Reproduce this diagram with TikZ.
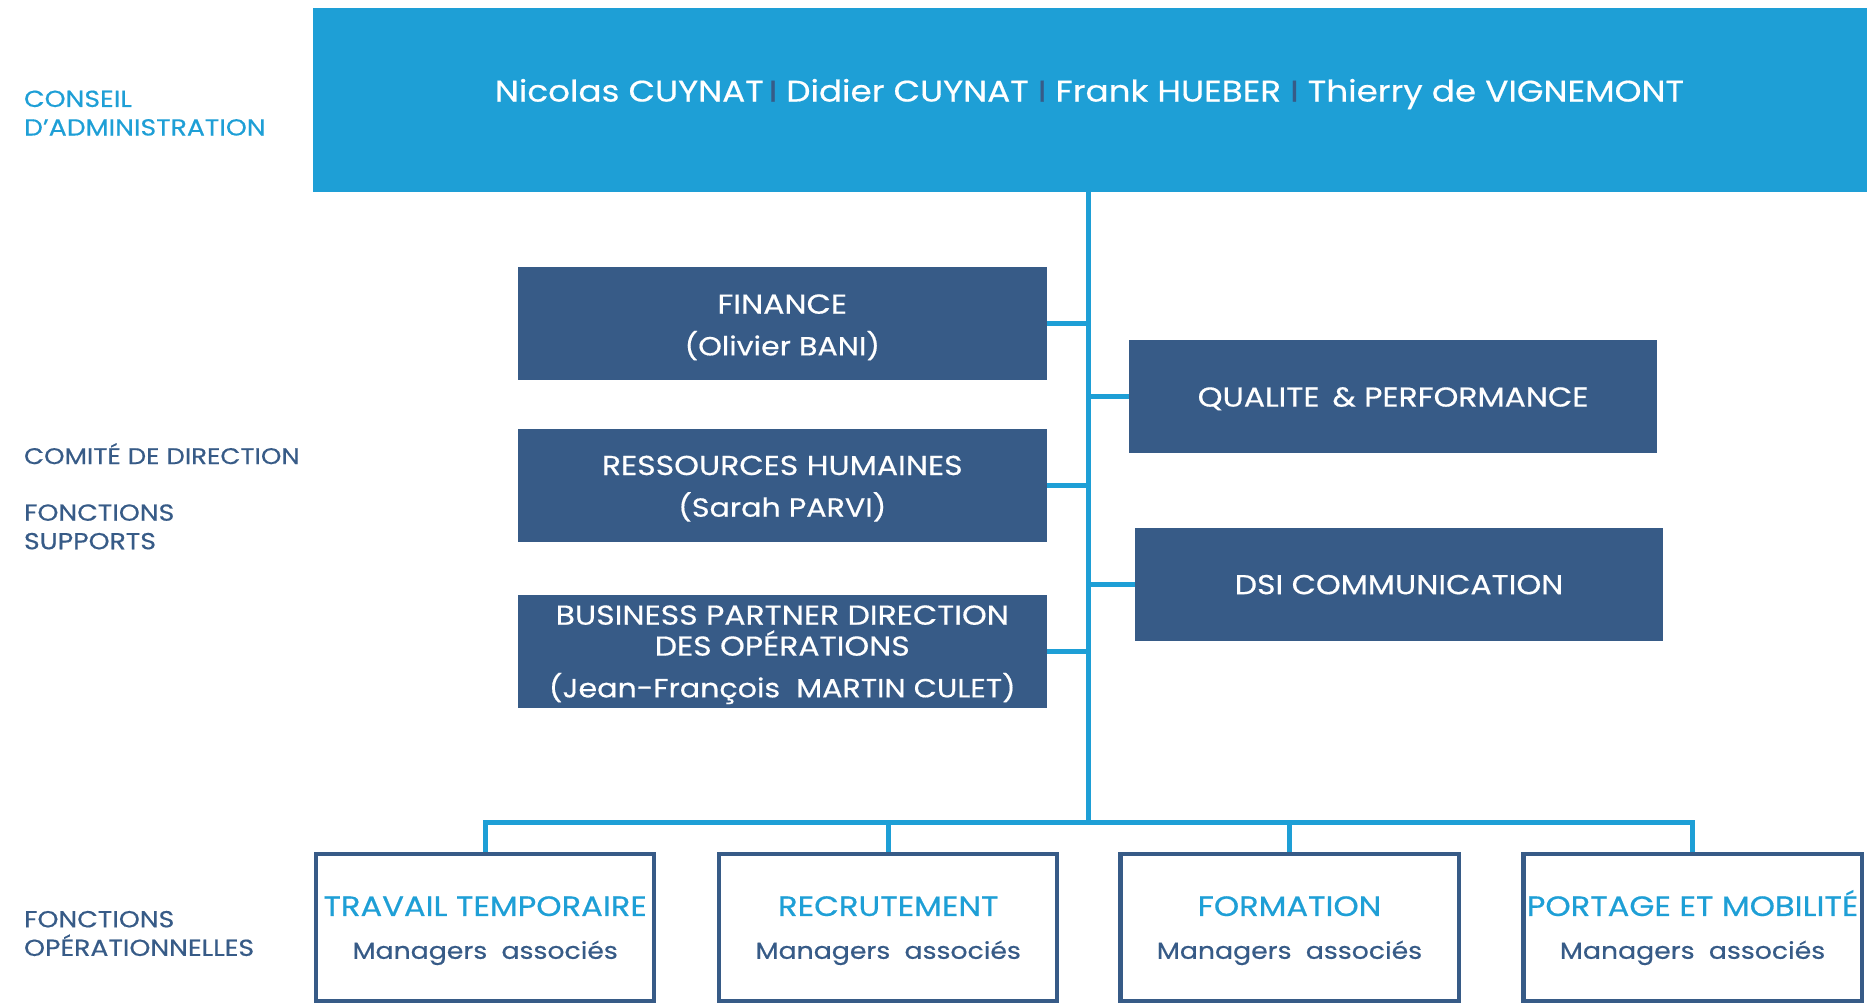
\documentclass[tikz,border=0pt]{standalone}
\usepackage{fontspec}
\setmainfont{Poppins}[FakeStretch=1.15,FakeBold=0.5]
\definecolor{lb}{HTML}{1E9FD6}
\definecolor{db}{HTML}{375B87}
\newcommand{\fsz}[1]{\fontsize{#1}{#1}\selectfont}
\begin{document}
\begin{tikzpicture}[x=1pt,y=-1pt,
  sidelabel/.style={anchor=west, align=left, inner sep=0pt, font=\fontsize{19.5}{24}\selectfont},
  supbox/.style={fill=db, text=white, minimum width=444pt, minimum height=95pt, inner sep=0pt, align=center, font=\fontsize{23}{35}\selectfont},
  opbox/.style={draw=db, line width=3.5pt, fill=white, minimum width=284pt, minimum height=124pt, inner sep=0pt, align=center, font=\fontsize{23.5}{36}\selectfont},
  link/.style={draw=lb, line width=4pt}]
\useasboundingbox (0,0) rectangle (1568,843);
% board
\node[fill=lb, minimum width=1305pt, minimum height=154pt, inner sep=0pt] (board) at (915.5,84) {};
\node[text=white, inner sep=0pt, font=\fontsize{25}{30}\selectfont] (names) at (915,79)
  {Nicolas CUYNAT\,{\color{db}I} Didier CUYNAT {\color{db}I} Frank HUEBER {\color{db}I} Thierry de VIGNEMONT};
% side labels
\node[sidelabel, text=lb] (l1) at (20,95) {CONSEIL\\D’ADMINISTRATION};
\node[sidelabel, text=db, font=\fontsize{19}{24}\selectfont] (l2) at (20,381) {COMITÉ DE DIRECTION};
\node[sidelabel, text=db] (l3) at (20,442.5) {FONCTIONS\\SUPPORTS};
\node[sidelabel, text=db] (l4) at (20,784) {FONCTIONS\\OPÉRATIONNELLES};
% trunk
\coordinate (tbot) at (914,691);
\coordinate (ttop) at (914,161);
% support boxes
\node[supbox] (fin) at (657,272) {\rule{0pt}{22pt}FINANCE\\\fsz{22}(Olivier BANI)};
\node[supbox] (rh) at (657,408) {\rule{0pt}{21pt}RESSOURCES HUMAINES\\\fsz{22}(Sarah PARVI)};
\node[supbox] (bp) at (657,547) {\rule{0pt}{22pt}BUSINESS PARTNER DIRECTION\\[-9pt]DES OPÉRATIONS\\\fsz{22}(Jean-François~ MARTIN CULET)};
\node[supbox] (qp) at (1170,333) {\rule{0pt}{20pt}QUALITE \,\& PERFORMANCE};
\node[supbox] (dsi) at (1175,491) {DSI COMMUNICATION};
% operational boxes
\node[opbox] (tt) at (407.5,779) {{\color{lb}\vphantom{É}TRAVAIL TEMPORAIRE}\\{\color{db}\fsz{19.5}Managers~ associés}};
\node[opbox] (rec) at (746,779) {{\color{lb}\vphantom{É}RECRUTEMENT}\\{\color{db}\fsz{19.5}Managers~ associés}};
\node[opbox] (for) at (1083,779) {{\color{lb}\vphantom{É}FORMATION}\\{\color{db}\fsz{19.5}Managers~ associés}};
\node[opbox] (pm) at (1421.5,779) {{\color{lb}\vphantom{É}PORTAGE ET MOBILITÉ}\\{\color{db}\fsz{19.5}Managers~ associés}};
% connectors
\draw[link] (ttop) -- (tbot);
\draw[link] (fin.east) -- (fin.east -| ttop);
\draw[link] (rh.east) -- (rh.east -| ttop);
\draw[link] (bp.east) -- (bp.east -| ttop);
\draw[link] (qp.west) -- (qp.west -| ttop);
\draw[link] (dsi.west) -- (dsi.west -| ttop);
\draw[link, line cap=rect] (tt.north |- tbot) -- (pm.north |- tbot);
\draw[link] (tt.north |- tbot) -- (tt.north);
\draw[link] (rec.north |- tbot) -- (rec.north);
\draw[link] (for.north |- tbot) -- (for.north);
\draw[link] (pm.north |- tbot) -- (pm.north);
\end{tikzpicture}
\end{document}
